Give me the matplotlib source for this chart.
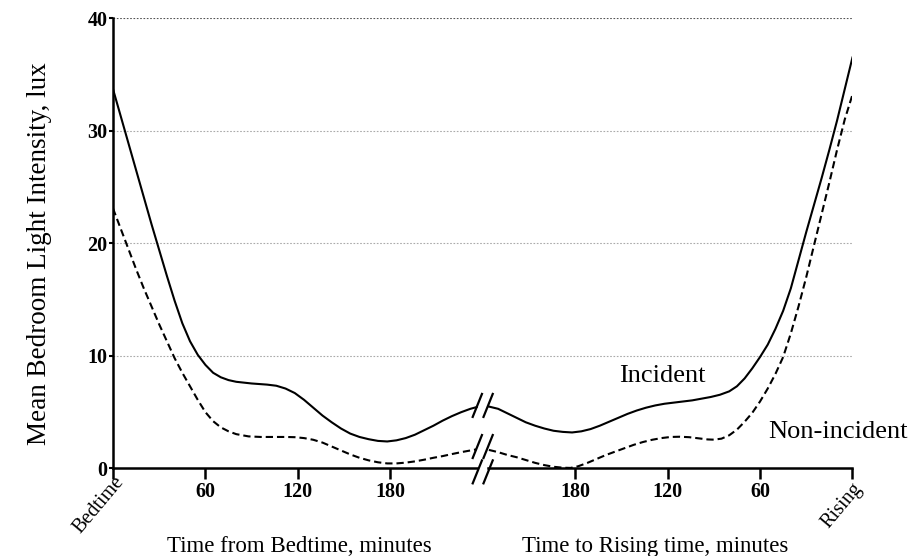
import matplotlib.pyplot as plt

plt.rcParams['font.family'] = ['Liberation Serif', 'DejaVu Serif']

# x axis: 0..240 = minutes from bedtime, 240..480 = (480 - minutes to rising)
inc_left_x = [0, 5, 10, 15, 20, 25, 30, 35, 40, 45, 50, 55, 60, 65, 70, 75, 80,
              90, 100, 106, 112, 118, 124, 130, 136, 142, 148, 154, 160, 166,
              172, 178, 184, 190, 196, 202, 208, 214, 220, 226, 232, 236]
inc_left_y = [33.7, 31.3, 28.9, 26.5, 24.1, 21.7, 19.4, 17.1, 14.9, 12.9, 11.3,
              10.1, 9.2, 8.5, 8.1, 7.85, 7.7, 7.55, 7.45, 7.35, 7.1, 6.7, 6.1,
              5.4, 4.7, 4.1, 3.55, 3.1, 2.8, 2.6, 2.45, 2.4, 2.5, 2.7, 3.0, 3.4,
              3.8, 4.25, 4.65, 5.0, 5.3, 5.45]
inc_right_x = [244, 250, 256, 262, 268, 274, 280, 286, 292, 298, 304, 310, 316,
               322, 328, 334, 340, 346, 352, 358, 364, 370, 376, 382, 388, 394,
               400, 405, 410, 415, 420, 425, 430, 435, 440, 445, 450, 455, 460,
               465, 470, 475, 480]
inc_right_y = [5.5, 5.3, 4.9, 4.5, 4.1, 3.8, 3.55, 3.35, 3.25, 3.2, 3.3, 3.5,
               3.8, 4.15, 4.5, 4.85, 5.15, 5.4, 5.6, 5.75, 5.85, 5.95, 6.05, 6.2,
               6.35, 6.55, 6.85, 7.3, 8.0, 8.9, 9.9, 11.0, 12.4, 14.0, 16.0,
               18.5, 21.0, 23.4, 25.8, 28.3, 30.9, 33.7, 36.5]

non_left_x = [0, 5, 10, 15, 20, 25, 30, 35, 40, 45, 50, 55, 60, 65, 70, 75, 80,
              88, 96, 104, 112, 118, 124, 130, 136, 142, 148, 154, 160, 166,
              172, 178, 184, 190, 196, 202, 208, 214, 220, 226, 232, 236]
non_left_y = [23.1, 21.3, 19.5, 17.7, 16.0, 14.4, 12.8, 11.3, 9.8, 8.5, 7.3,
              6.1, 5.0, 4.2, 3.65, 3.3, 3.05, 2.85, 2.8, 2.8, 2.8, 2.78, 2.7,
              2.55, 2.3, 1.95, 1.6, 1.25, 0.95, 0.72, 0.55, 0.45, 0.45, 0.52,
              0.63, 0.78, 0.95, 1.1, 1.28, 1.45, 1.6, 1.7]
non_right_x = [244, 250, 256, 262, 268, 274, 280, 286, 292, 297, 302, 308, 314,
               320, 326, 332, 338, 344, 350, 356, 362, 368, 374, 380, 386, 390,
               395, 400, 405, 410, 415, 420, 425, 430, 435, 440, 445, 450, 455,
               460, 465, 470, 475, 480]
non_right_y = [1.65, 1.45, 1.2, 1.0, 0.75, 0.5, 0.3, 0.15, 0.07, 0.05, 0.2, 0.5,
               0.85, 1.2, 1.5, 1.8, 2.1, 2.35, 2.55, 2.7, 2.8, 2.82, 2.78, 2.68,
               2.58, 2.56, 2.65, 2.95, 3.45, 4.15, 4.95, 5.95, 7.1, 8.4, 9.9,
               12.0, 14.4, 17.0, 19.8, 22.6, 25.4, 28.3, 31.0, 33.2]

tick_pos = [0, 60, 120, 180, 300, 360, 420, 480]
tick_labels = ['', '60', '120', '180', '180', '120', '60', '']
y_ticks = [0, 10, 20, 30, 40]

fig = plt.figure(figsize=(9.09, 5.56), dpi=100)
ax = fig.add_axes([0.1243, 0.1574, 0.8135, 0.810])
ax.set_xlim(0, 480)
ax.set_ylim(0, 40)

# gridlines
for g in y_ticks[1:]:
    col = '#555555' if g == 40 else '#aaaaaa'
    ax.plot([0, 480], [g, g], ls=(0, (1.5, 1.5)), color=col, lw=0.8, zorder=1)

dash = (0, (3.5, 1.9))
ax.plot(inc_left_x, inc_left_y, color='black', lw=1.5, zorder=3)
ax.plot(inc_right_x, inc_right_y, color='black', lw=1.5, zorder=3)
ax.plot(non_left_x, non_left_y, color='black', lw=1.5, ls=dash, zorder=3)
ax.plot(non_right_x, non_right_y, color='black', lw=1.5, ls=dash, zorder=3)

# axis lines with a break
for s in ['top', 'right', 'bottom']:
    ax.spines[s].set_visible(False)
ax.spines['left'].set_linewidth(1.8)
ax.plot([0, 236.5], [0, 0], color='black', lw=1.8, clip_on=False, zorder=4)
ax.plot([243.5, 480], [0, 0], color='black', lw=1.8, clip_on=False, zorder=4)

# break marks
for yc in [5.6, 1.95, -0.3]:
    for xc in [236.5, 243.5]:
        ax.plot([xc - 3.0, xc + 3.0], [yc - 1.02, yc + 1.02], color='black',
                lw=1.6, clip_on=False, zorder=5)

ax.set_yticks(y_ticks)
ax.set_yticklabels([str(v) for v in y_ticks], fontweight='bold', fontsize=14.5)
ax.tick_params(axis='y', direction='out', length=3, width=1.5, pad=1)
ax.set_xticks(tick_pos)
ax.set_xticklabels(tick_labels, fontweight='bold', fontsize=14.5)
ax.tick_params(axis='x', direction='out', length=8, width=1.8, pad=2)

ax.text(0.5, -0.35, 'Bedtime', rotation=50, rotation_mode='anchor', ha='right',
        va='top', fontsize=14.5, clip_on=False)
ax.text(479.5, -0.95, 'Rising', rotation=50, rotation_mode='anchor', ha='right',
        va='top', fontsize=14.5, clip_on=False)

ax.set_ylabel('Mean Bedroom Light Intensity, lux', fontsize=19.5)
ax.yaxis.set_label_coords(-0.0825, 0.477)
fig.text(299 / 909, 4 / 556, 'Time from Bedtime, minutes', ha='center',
         va='baseline', fontsize=16.5)
fig.text(655 / 909, 4 / 556, 'Time to Rising time, minutes', ha='center',
         va='baseline', fontsize=16.5)

ax.text(356.6, 7.67, 'Incident', ha='center', va='baseline', fontsize=19)
ax.text(425.4, 2.67, 'Non-incident', ha='left', va='baseline', fontsize=19,
        clip_on=False)

fig.savefig('out.png', dpi=100)
